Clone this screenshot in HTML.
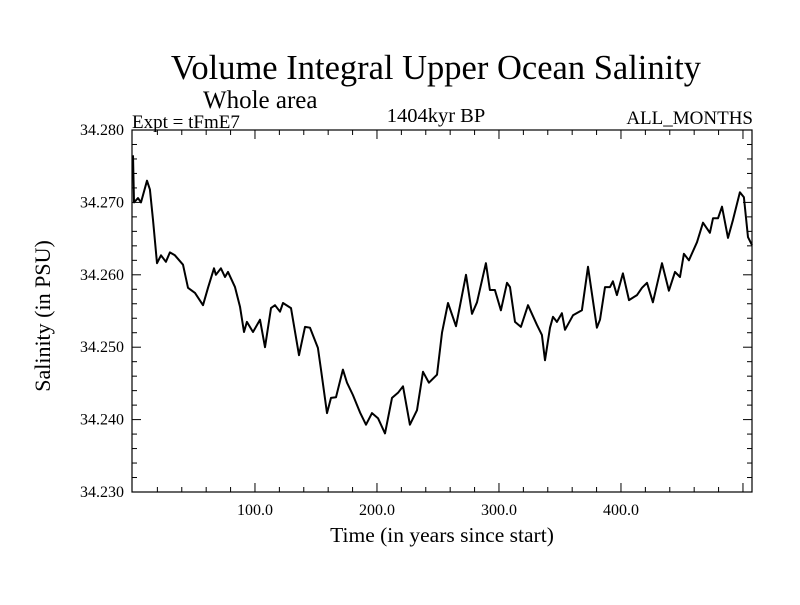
<!DOCTYPE html>
<html><head><meta charset="utf-8"><style>
body{margin:0;background:#fff;}
svg text{font-family:"Liberation Serif",serif;fill:#000;}
</style></head><body>
<svg id="c" width="800" height="600" xmlns="http://www.w3.org/2000/svg">
<rect width="800" height="600" fill="#fff"/>
<text x="436" y="79" font-size="34.5" text-anchor="middle">Volume Integral Upper Ocean Salinity</text>
<text x="203" y="108" font-size="25">Whole area</text>
<text x="132" y="128" font-size="19">Expt = tFmE7</text>
<text x="436" y="122" font-size="20.5" text-anchor="middle">1404kyr BP</text>
<text x="753" y="124" font-size="19" text-anchor="end">ALL_MONTHS</text>
<text x="442" y="542" font-size="21.5" text-anchor="middle">Time (in years since start)</text>
<text transform="translate(50,316) rotate(-90)" font-size="22" text-anchor="middle">Salinity (in PSU)</text>
<g id="ticks"></g>
<path id="line" fill="none" stroke="#000" stroke-width="2" stroke-linejoin="round"/>
<rect x="132" y="130" width="620" height="362" fill="none" stroke="#000" stroke-width="1.2"/>
</svg>
<script>
const years=[0,0.8,4.1,6.6,11.5,13.9,16.4,19.7,23.0,27.0,30.3,34.4,41.0,45.1,50.8,57.4,61.5,66.4,68.0,72.1,75.4,77.9,83.6,87.7,91.0,93.4,98.4,104.1,108.2,113.1,116.4,120.5,123.0,129.5,136.1,141.0,145.1,151.6,154.1,159.0,162.3,166.4,172.1,175.4,180.3,186.1,191.0,195.9,200.8,206.6,212.3,217.2,221.3,227.0,232.8,237.7,242.6,249.2,253.3,258.2,264.8,273.0,277.9,282.0,289.3,292.6,296.7,301.6,306.6,309.0,313.1,318.0,323.8,331.1,335.2,337.7,341.8,344.3,347.5,351.6,354.1,360.7,368.0,373.0,380.3,382.8,386.9,391.0,393.4,396.7,401.6,406.6,413.1,417.2,421.3,426.2,433.6,439.3,444.3,448.4,451.6,455.7,462.3,467.2,472.9,475.4,479.5,482.8,487.7,491.8,497.5,500.8,504.1,507.4];
const salinity=[34.2765,34.2700,34.2706,34.2700,34.2730,34.2718,34.2676,34.2616,34.2627,34.2618,34.2631,34.2627,34.2614,34.2582,34.2575,34.2558,34.2582,34.2609,34.2600,34.2609,34.2597,34.2604,34.2583,34.2556,34.2521,34.2535,34.2521,34.2538,34.2500,34.2554,34.2558,34.2549,34.2561,34.2554,34.2489,34.2528,34.2527,34.2499,34.2469,34.2409,34.2430,34.2431,34.2469,34.2451,34.2434,34.2410,34.2393,34.2409,34.2402,34.2381,34.2430,34.2437,34.2446,34.2393,34.2413,34.2466,34.2451,34.2462,34.2520,34.2561,34.2529,34.2600,34.2546,34.2562,34.2616,34.2579,34.2579,34.2551,34.2589,34.2583,34.2535,34.2528,34.2558,34.2531,34.2517,34.2482,34.2527,34.2542,34.2535,34.2547,34.2524,34.2544,34.2551,34.2611,34.2527,34.2538,34.2583,34.2583,34.2591,34.2572,34.2602,34.2565,34.2572,34.2582,34.2589,34.2562,34.2616,34.2578,34.2604,34.2597,34.2629,34.2620,34.2645,34.2672,34.2658,34.2678,34.2678,34.2694,34.2651,34.2676,34.2714,34.2707,34.2652,34.2641];
const xTickValues=[100,200,300,400];
const xTickLabels=["100.0","200.0","300.0","400.0"];
const yTickValues=[34.230,34.240,34.250,34.260,34.270,34.280];
const yTickLabels=["34.230","34.240","34.250","34.260","34.270","34.280"];
const X0=132,X1=752,Y0=492,Y1=130,XMIN=-0.8,XMAX=507.4,YMIN=34.230,YMAX=34.280;
const sx=v=>X0+(v-XMIN)/(XMAX-XMIN)*(X1-X0);
const sy=v=>Y0-(v-YMIN)/(YMAX-YMIN)*(Y0-Y1);
const NS="http://www.w3.org/2000/svg";
const g=document.getElementById('ticks');
function ln(x1,y1,x2,y2){const l=document.createElementNS(NS,'line');l.setAttribute('x1',x1);l.setAttribute('y1',y1);l.setAttribute('x2',x2);l.setAttribute('y2',y2);l.setAttribute('stroke','#000');l.setAttribute('stroke-width','1');g.appendChild(l);return l;}
for(let v=20;v<XMAX;v+=20){const x=sx(v);const maj=v%100===0;const L=maj?9:5;
const a=ln(x,Y0,x,Y0-L);


const b=ln(x,Y1,x,Y1+L);

}
for(let i=0;i<=25;i++){const v=YMIN+i*0.002;const y=sy(v);const maj=i%5===0;const L=maj?9:5;
const a=ln(X0,y,X0+L,y);


const b=ln(X1,y,X1-L,y);

}
xTickValues.forEach((v,i)=>{const t=document.createElementNS(NS,'text');t.setAttribute('x',sx(v));t.setAttribute('y',515);t.setAttribute('font-size','16');t.setAttribute('text-anchor','middle');t.textContent=xTickLabels[i];


g.appendChild(t);});
yTickValues.forEach((v,i)=>{const t=document.createElementNS(NS,'text');t.setAttribute('x',124);t.setAttribute('y',sy(v)+5);t.setAttribute('font-size','16');t.setAttribute('text-anchor','end');t.textContent=yTickLabels[i];


g.appendChild(t);});
document.getElementById('line').setAttribute('d',years.map((v,i)=>(i?'L':'M')+sx(v).toFixed(1)+','+sy(salinity[i]).toFixed(1)).join(''));
</script>
</body></html>
